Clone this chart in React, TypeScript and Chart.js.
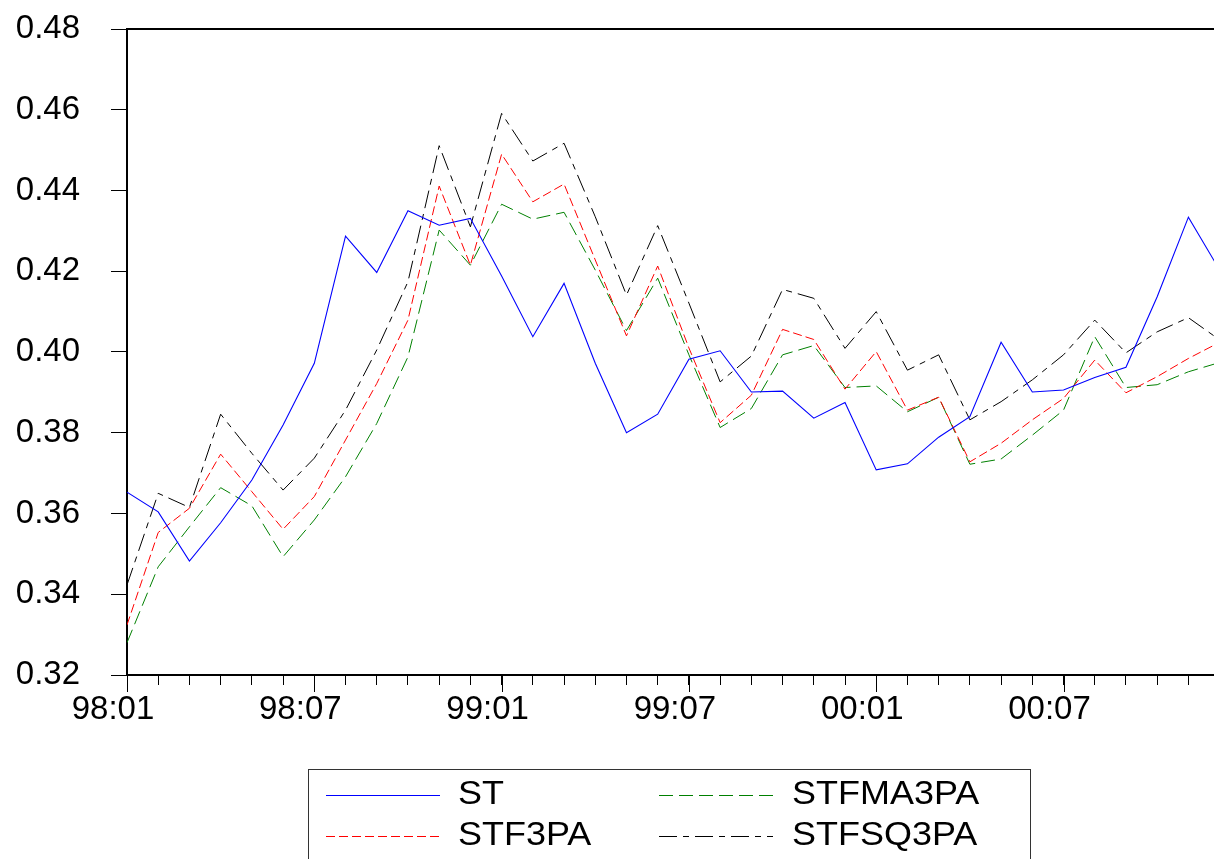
import { useEffect, useRef } from 'react';
import { Chart, registerables } from 'chart.js';

Chart.register(...registerables);

const FONT = '"Liberation Sans", Arial, Helvetica, sans-serif';

const months = [
  '98:01', '98:02', '98:03', '98:04', '98:05', '98:06', '98:07', '98:08', '98:09', '98:10', '98:11', '98:12',
  '99:01', '99:02', '99:03', '99:04', '99:05', '99:06', '99:07', '99:08', '99:09', '99:10', '99:11', '99:12',
  '00:01', '00:02', '00:03', '00:04', '00:05', '00:06', '00:07', '00:08', '00:09', '00:10', '00:11', '00:12',
];

const labeledMonths = ['98:01', '98:07', '99:01', '99:07', '00:01', '00:07'];

const yTicks = [0.32, 0.34, 0.36, 0.38, 0.4, 0.42, 0.44, 0.46, 0.48];

const ST = [
  0.3653, 0.3604, 0.3482, 0.3577, 0.3683, 0.3819, 0.3972, 0.4287, 0.4197, 0.4350, 0.4314, 0.4331,
  0.4188, 0.4038, 0.4170, 0.3972, 0.3800, 0.3846, 0.3982, 0.4003, 0.3901, 0.3903, 0.3836, 0.3875,
  0.3708, 0.3723, 0.3789, 0.3840, 0.4024, 0.3901, 0.3906, 0.3937, 0.3962, 0.4137, 0.4334, 0.4203,
];

const STF3PA = [
  0.3324, 0.3553, 0.3613, 0.3747, 0.3654, 0.3561, 0.3642, 0.3782, 0.3922, 0.4079, 0.4411, 0.4215,
  0.4490, 0.4372, 0.4416, 0.4228, 0.4040, 0.4213, 0.4010, 0.3825, 0.3893, 0.4056, 0.4031, 0.3908,
  0.4001, 0.3856, 0.3888, 0.3728, 0.3774, 0.3832, 0.3885, 0.3980, 0.3899, 0.3939, 0.3984, 0.4024,
];

const STFMA3PA = [
  0.3280, 0.3468, 0.3567, 0.3664, 0.3619, 0.3493, 0.3584, 0.3691, 0.3823, 0.3988, 0.4302, 0.4215,
  0.4366, 0.4329, 0.4346, 0.4203, 0.4053, 0.4183, 0.3993, 0.3813, 0.3860, 0.3993, 0.4016, 0.3912,
  0.3916, 0.3852, 0.3888, 0.3722, 0.3735, 0.3794, 0.3856, 0.4038, 0.3912, 0.3919, 0.3951, 0.3974,
];

const STFSQ3PA = [
  0.3423, 0.3650, 0.3615, 0.3846, 0.3749, 0.3658, 0.3737, 0.3856, 0.4005, 0.4174, 0.4511, 0.4310,
  0.4591, 0.4473, 0.4517, 0.4335, 0.4141, 0.4313, 0.4121, 0.3926, 0.3990, 0.4155, 0.4133, 0.4009,
  0.4100, 0.3955, 0.3993, 0.3832, 0.3877, 0.3931, 0.3993, 0.4079, 0.3998, 0.4050, 0.4085, 0.4030,
];

const seriesNames = ['ST', 'STF3PA', 'STFMA3PA', 'STFSQ3PA'];

export default function App() {
  const ref = useRef<HTMLCanvasElement>(null);

  useEffect(() => {
    if (!ref.current) return;
    const toPoints = (arr: number[]) => arr.map((v, i) => ({ x: i, y: v }));

    const frameLegend = {
      id: 'frameLegend',
      afterDraw(chart: any) {
        const { ctx, chartArea, scales } = chart;
        const xs = scales.x;
        ctx.save();
        // top frame line
        ctx.strokeStyle = '#000';
        ctx.lineWidth = 2;
        ctx.beginPath();
        ctx.moveTo(chartArea.left - 1, chartArea.top);
        ctx.lineTo(chartArea.right + 2, chartArea.top);
        ctx.stroke();
        // longer major ticks on the x axis
        ctx.lineWidth = 1;
        months.forEach((m, i) => {
          if (labeledMonths.includes(m)) {
            const px = Math.round(xs.getPixelForValue(i)) + 0.5;
            ctx.beginPath();
            ctx.moveTo(px, chartArea.bottom);
            ctx.lineTo(px, chartArea.bottom + 17);
            ctx.stroke();
          }
        });
        // legend box
        ctx.strokeStyle = '#333';
        ctx.lineWidth = 1;
        ctx.strokeRect(308.5, 769.5, 722, 200);
        const slots = [
          { lx: 326, tx: 458, y: 795 },
          { lx: 326, tx: 458, y: 836 },
          { lx: 659, tx: 792, y: 795 },
          { lx: 659, tx: 792, y: 836 },
        ];
        chart.data.datasets.forEach((ds: any, i: number) => {
          const s = slots[i];
          ctx.save();
          ctx.strokeStyle = ds.borderColor;
          ctx.lineWidth = 1;
          ctx.setLineDash(ds.borderDash || []);
          ctx.beginPath();
          ctx.moveTo(s.lx, s.y + 0.5);
          ctx.lineTo(s.lx + 114, s.y + 0.5);
          ctx.stroke();
          ctx.restore();
          ctx.save();
          ctx.translate(s.tx, s.y);
          ctx.scale(1.09, 1);
          ctx.fillStyle = '#000';
          ctx.font = `33px ${FONT}`;
          ctx.textBaseline = 'middle';
          ctx.textAlign = 'left';
          ctx.fillText(ds.label, 0, 0);
          ctx.restore();
        });
        ctx.restore();
      },
    };

    const chart = new Chart(ref.current, {
      type: 'line',
      data: {
        datasets: [
          { label: seriesNames[0], data: toPoints(ST), borderColor: '#0000ff', borderWidth: 1.1, borderDash: [] },
          { label: seriesNames[1], data: toPoints(STF3PA), borderColor: '#ff0000', borderWidth: 1, borderDash: [9, 4] },
          { label: seriesNames[2], data: toPoints(STFMA3PA), borderColor: '#008000', borderWidth: 1, borderDash: [14, 6] },
          { label: seriesNames[3], data: toPoints(STFSQ3PA), borderColor: '#000000', borderWidth: 1, borderDash: [18, 6, 6, 6] },
        ].map((d) => ({ ...d, pointRadius: 0, tension: 0, fill: false })),
      },
      options: {
        responsive: false,
        animation: false,
        events: [],
        layout: { padding: { left: 0, top: 29, right: 0, bottom: 0 } },
        plugins: {
          legend: { display: false },
          tooltip: { enabled: false },
          title: { display: false },
        },
        scales: {
          x: {
            type: 'linear',
            min: 0,
            max: 34.82,
            afterFit: (s: any) => { s.height = 184; s.paddingLeft = 0; s.paddingRight = 0; },
            border: { display: true, color: '#000', width: 2 },
            grid: { drawOnChartArea: false, drawTicks: true, tickLength: 10, tickColor: '#000', tickWidth: 1 },
            ticks: {
              stepSize: 1,
              autoSkip: false,
              includeBounds: false,
              maxRotation: 0,
              minRotation: 0,
              padding: 5,
              labelOffset: -14,
              color: '#000',
              font: { family: FONT, size: 33 },
              callback: (v: any) => {
                const i = Number(v);
                if (!Number.isInteger(i)) return '';
                const m = months[i];
                return labeledMonths.includes(m) ? m : '';
              },
            },
          },
          y: {
            type: 'linear',
            min: yTicks[0],
            max: yTicks[yTicks.length - 1],
            afterFit: (s: any) => { s.width = 127; s.paddingTop = 0; s.paddingBottom = 0; },
            afterBuildTicks: (s: any) => { s.ticks = yTicks.map((v) => ({ value: v })); },
            border: { display: true, color: '#000', width: 2 },
            grid: { drawOnChartArea: false, drawTicks: true, tickLength: 16, tickColor: '#000', tickWidth: 1 },
            ticks: {
              padding: 31,
              color: '#000',
              font: { family: FONT, size: 33 },
              callback: (v: any) => Number(v).toFixed(2),
            },
          },
        },
      },
      plugins: [frameLegend],
    } as any);

    return () => chart.destroy();
  }, []);

  return (
    <div style={{ position: 'fixed', left: 0, top: 0, width: 1214, height: 859, background: '#fff', overflow: 'hidden' }}>
      <canvas ref={ref} width={1214} height={859} style={{ display: 'block', width: 1214, height: 859 }} />
    </div>
  );
}
